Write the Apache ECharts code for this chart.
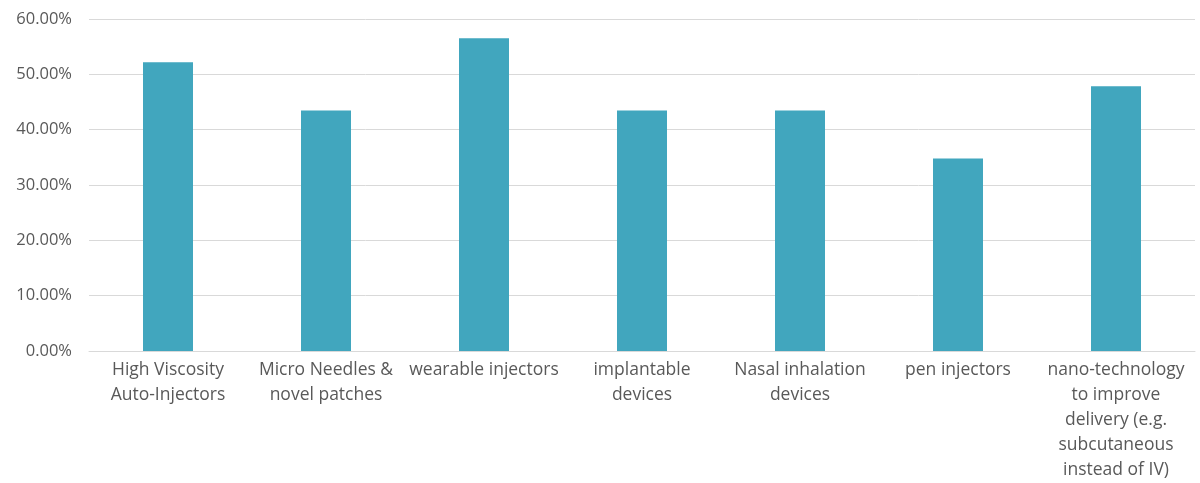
<!DOCTYPE html>
<html><head><meta charset="utf-8">
<script src="https://cdn.jsdelivr.net/npm/echarts@6/dist/echarts.min.js"></script>
<style>html,body{margin:0;padding:0;background:#fff}#c{width:1200px;height:483px}</style>
</head><body><div id="c"></div>
<script>
const categories = [
  "High Viscosity\nAuto-Injectors",
  "Micro Needles &\nnovel patches",
  "wearable injectors",
  "implantable\ndevices",
  "Nasal inhalation\ndevices",
  "pen injectors",
  "nano-technology\nto improve\ndelivery (e.g.\nsubcutaneous\ninstead of IV)"
];
const values = [0.5217, 0.4348, 0.5652, 0.4348, 0.4348, 0.3478, 0.4783];
const chart = echarts.init(document.getElementById('c'));
chart.setOption({
  animation: false,
  grid: {left: 89, right: 5, top: 19, bottom: 132, containLabel: false},
  xAxis: {
    type: 'category', data: categories,
    axisLine: {lineStyle: {color: '#d9d9d9', width: 1}},
    axisTick: {show: false},
    axisLabel: {interval: 0, color: '#595959', fontFamily: 'Open Sans', fontSize: 17.5, lineHeight: 25, margin: 7}
  },
  yAxis: {
    type: 'value', min: 0, max: 0.6, interval: 0.1,
    axisLine: {show: false}, axisTick: {show: false},
    splitLine: {lineStyle: {color: '#d9d9d9', width: 1}},
    axisLabel: {color: '#595959', fontFamily: 'Open Sans', fontSize: 16.5, margin: 17,
      formatter: v => (v * 100).toFixed(2) + '%'}
  },
  series: [{type: 'bar', data: values, barWidth: 50, itemStyle: {color: '#41A6BE'}}]
});
</script></body></html>
